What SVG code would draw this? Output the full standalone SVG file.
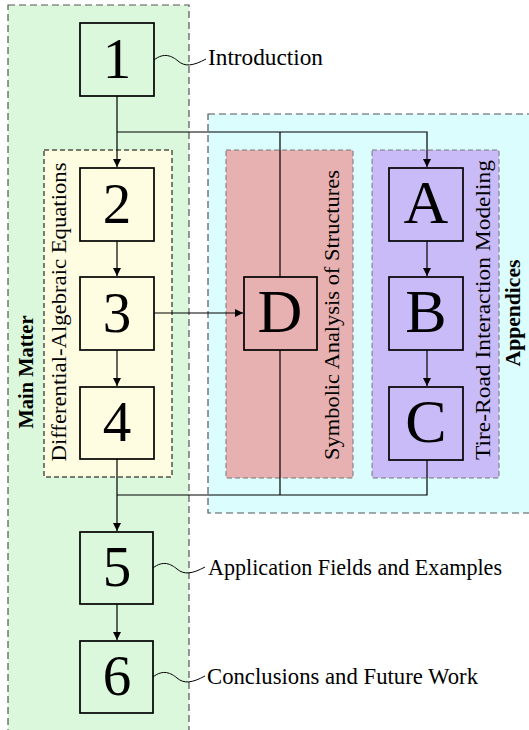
<svg xmlns="http://www.w3.org/2000/svg" width="529" height="730" viewBox="0 0 529 730">
<defs>
<marker id="arr" viewBox="0 0 10 10" refX="10" refY="5" markerWidth="8" markerHeight="8" markerUnits="userSpaceOnUse" orient="auto">
<path d="M0,0 L10,5 L0,10 z" fill="#000"/>
</marker>
<style>
.grp{stroke:#555;stroke-width:1.2;stroke-dasharray:7 4}
.inner{stroke:#777;stroke-width:1;stroke-dasharray:5 3}
.node{stroke:#000;stroke-width:1.7}
.num{font-family:"Liberation Serif","DejaVu Serif",serif;font-size:57px;text-anchor:middle;fill:#000}
.let{font-family:"Liberation Serif","DejaVu Serif",serif;font-size:62px;text-anchor:middle;fill:#000}
.lbl{font-family:"Liberation Serif","DejaVu Serif",serif;font-size:23px;fill:#000}
.vl{font-family:"Liberation Serif","DejaVu Serif",serif;font-size:22px;text-anchor:middle;fill:#000}
.vb{font-family:"Liberation Serif","DejaVu Serif",serif;font-size:22px;font-weight:bold;text-anchor:middle;fill:#000}
.con{fill:none;stroke:#000;stroke-width:1.2}
.sq{fill:none;stroke:#000;stroke-width:1}
</style>
</defs>
<g id="main-matter">
<rect x="8" y="5" width="181" height="740" fill="#dbf8dc" class="grp"/>
<text class="vb" transform="translate(33,372) rotate(-90)" textLength="113" lengthAdjust="spacingAndGlyphs">Main Matter</text>
</g>
<g id="dae">
<rect x="44" y="150" width="128" height="327" fill="#fefde1" stroke="#000" stroke-width="1" stroke-dasharray="5 3"/>
<text class="vl" transform="translate(66,312) rotate(-90)" textLength="299" lengthAdjust="spacingAndGlyphs">Differential-Algebraic Equations</text>
</g>
<g id="appendices">
<rect x="208" y="114" width="330" height="399" fill="#dcfdfd" class="grp"/>
<text class="vb" transform="translate(520,313) rotate(-90)" textLength="107" lengthAdjust="spacingAndGlyphs">Appendices</text>
</g>
<g id="symbolic">
<rect x="226" y="150" width="127" height="328" fill="#e8b1b1" class="inner"/>
<text class="vl" transform="translate(339,315) rotate(-90)" textLength="290" lengthAdjust="spacingAndGlyphs">Symbolic Analysis of Structures</text>
</g>
<g id="tire-road">
<rect x="372" y="150" width="127" height="328" fill="#c9baf8" class="inner"/>
<text class="vl" transform="translate(490,310) rotate(-90)" textLength="300" lengthAdjust="spacingAndGlyphs">Tire-Road Interaction Modeling</text>
</g>
<g id="connectors">
<line x1="117" y1="96" x2="117" y2="167" class="con" marker-end="url(#arr)"/>
<polyline points="117,132 427,132 427,167" class="con" marker-end="url(#arr)"/>
<line x1="280" y1="132" x2="280" y2="277" class="con"/>
<line x1="117" y1="241" x2="117" y2="276" class="con" marker-end="url(#arr)"/>
<line x1="117" y1="350" x2="117" y2="386" class="con" marker-end="url(#arr)"/>
<line x1="154" y1="313" x2="243" y2="313" class="con" marker-end="url(#arr)"/>
<line x1="427" y1="241" x2="427" y2="276" class="con" marker-end="url(#arr)"/>
<line x1="427" y1="350" x2="427" y2="386" class="con" marker-end="url(#arr)"/>
<line x1="280" y1="350" x2="280" y2="495" class="con"/>
<polyline points="427,460 427,495 117,495" class="con"/>
<line x1="117" y1="459" x2="117" y2="531" class="con" marker-end="url(#arr)"/>
<line x1="117" y1="604" x2="117" y2="640" class="con" marker-end="url(#arr)"/>
<path d="M154,60 C164,52 172,56 178,61 C185,67 193,66 206,59" class="sq"/>
<path d="M153,568 C163,560 171,564 177,569 C184,575 192,574 205,567" class="sq"/>
<path d="M153,677 C163,669 171,673 177,678 C184,684 192,683 205,676" class="sq"/>
</g>
<g id="n1"><rect x="80" y="23" width="74" height="73" fill="#dbf8dc" class="node"/><text x="117" y="78" class="num">1</text></g>
<g id="n2"><rect x="80" y="168" width="74" height="73" fill="#fefde1" class="node"/><text x="117" y="223" class="num">2</text></g>
<g id="n3"><rect x="80" y="277" width="74" height="73" fill="#fefde1" class="node"/><text x="117" y="332" class="num">3</text></g>
<g id="n4"><rect x="80" y="387" width="74" height="72" fill="#fefde1" class="node"/><text x="117" y="441" class="num">4</text></g>
<g id="n5"><rect x="80" y="532" width="73" height="72" fill="#dbf8dc" class="node"/><text x="117" y="586" class="num">5</text></g>
<g id="n6"><rect x="80" y="641" width="73" height="72" fill="#dbf8dc" class="node"/><text x="117" y="695" class="num">6</text></g>
<g id="nA"><rect x="389" y="168" width="74" height="73" fill="#c9baf8" class="node"/><text x="426" y="223" class="let">A</text></g>
<g id="nB"><rect x="389" y="277" width="74" height="73" fill="#c9baf8" class="node"/><text x="426" y="332" class="let">B</text></g>
<g id="nC"><rect x="389" y="387" width="74" height="73" fill="#c9baf8" class="node"/><text x="426" y="442" class="let">C</text></g>
<g id="nD"><rect x="244" y="277" width="73" height="73" fill="#e8b1b1" class="node"/><text x="280" y="332" class="let">D</text></g>
<g id="labels">
<text x="208" y="65" class="lbl" textLength="115" lengthAdjust="spacingAndGlyphs">Introduction</text>
<text x="208" y="575" class="lbl" textLength="294" lengthAdjust="spacingAndGlyphs">Application Fields and Examples</text>
<text x="207" y="684" class="lbl" textLength="271" lengthAdjust="spacingAndGlyphs">Conclusions and Future Work</text>
</g>
</svg>
